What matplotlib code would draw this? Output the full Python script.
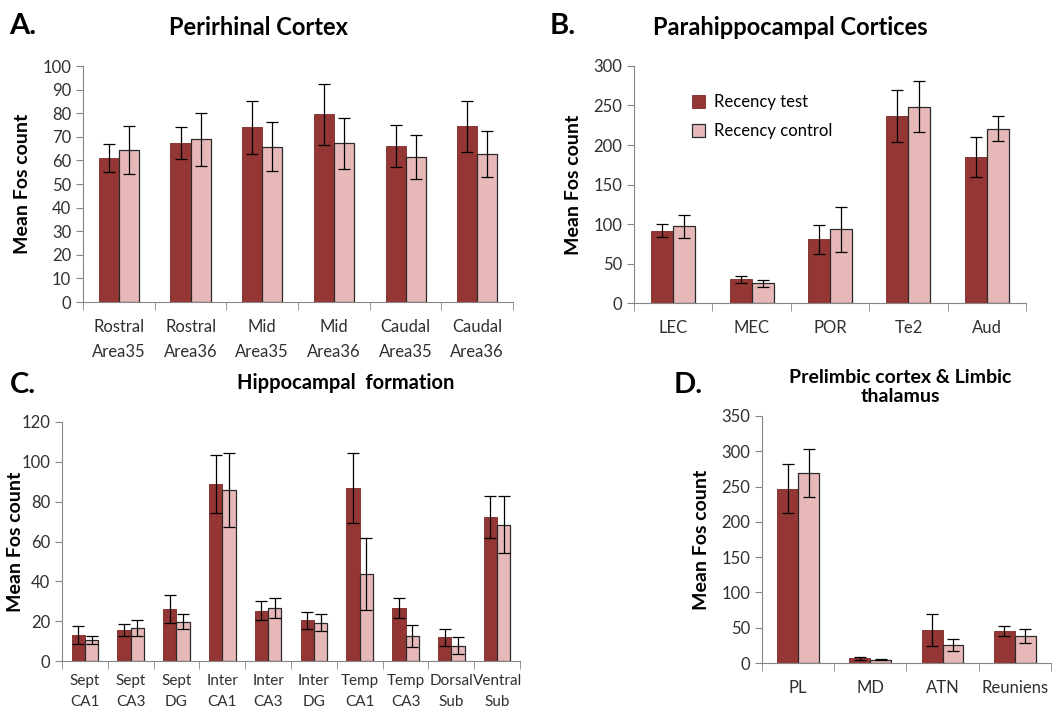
import numpy as np
import matplotlib.pyplot as plt

plt.rcParams['font.family'] = ['Lato', 'DejaVu Sans']

dark = '#943634'
pink = '#e6b9b8'
axis_grey = '#868686'

# A. Perirhinal cortex
a_labels = ['Rostral\nArea35', 'Rostral\nArea36', 'Mid\nArea35', 'Mid\nArea36', 'Caudal\nArea35', 'Caudal\nArea36']
a_test = [61, 67.5, 74, 79.5, 66.3, 74.4]
a_test_err = [6.1, 6.8, 11.4, 12.9, 8.9, 10.8]
a_ctrl = [64.6, 68.9, 65.8, 67.3, 61.5, 62.7]
a_ctrl_err = [10.2, 11.1, 10.3, 10.8, 9.3, 9.9]

# B. Parahippocampal cortices
b_labels = ['LEC', 'MEC', 'POR', 'Te2', 'Aud']
b_test = [91.4, 29.9, 80.5, 236.8, 184.6]
b_test_err = [8.2, 4.0, 18.1, 32.8, 25.1]
b_ctrl = [96.9, 24.9, 93.6, 248.6, 220.8]
b_ctrl_err = [14.5, 4.8, 28.5, 32.5, 15.4]

# C. Hippocampal formation
c_labels = ['Sept\nCA1', 'Sept\nCA3', 'Sept\nDG', 'Inter\nCA1', 'Inter\nCA3', 'Inter\nDG',
            'Temp\nCA1', 'Temp\nCA3', 'Dorsal\nSub', 'Ventral\nSub']
c_test = [12.9, 15.7, 26.1, 88.9, 25.3, 20.4, 87.0, 26.6, 11.9, 72.5]
c_test_err = [4.5, 2.9, 6.9, 14.5, 4.9, 4.3, 17.6, 5.0, 4.3, 10.5]
c_ctrl = [10.5, 16.4, 19.7, 85.7, 26.4, 19.2, 43.8, 12.7, 7.7, 68.5]
c_ctrl_err = [2.2, 4.0, 3.8, 18.6, 5.0, 4.3, 18.0, 5.5, 4.2, 14.1]

# D. Prelimbic cortex & limbic thalamus
d_labels = ['PL', 'MD', 'ATN', 'Reuniens']
d_test = [247, 6.6, 46.8, 45.3]
d_test_err = [35, 2.2, 22, 7.5]
d_ctrl = [268.8, 4.7, 26, 38.7]
d_ctrl_err = [34, 1.0, 8.3, 10.2]

fig = plt.figure(figsize=(10.54, 7.15), dpi=100)


def panel(rect, labels, test, test_err, ctrl, ctrl_err, ymax, step, width,
          tick_fs=12, spacing=1.75, pad=12, legend=False):
    ax = fig.add_axes(rect)
    x = np.arange(len(labels))
    ax.bar(x - width / 2, test, width, color=dark, edgecolor='#7a2826', linewidth=0.6,
           yerr=test_err, capsize=4, error_kw=dict(ecolor='black', elinewidth=0.9, capthick=0.9),
           label='Recency test')
    ax.bar(x + width / 2, ctrl, width, color=pink, edgecolor='#2a2a2a', linewidth=0.9,
           yerr=ctrl_err, capsize=4, error_kw=dict(ecolor='black', elinewidth=0.9, capthick=0.9),
           label='Recency control')
    ax.set_xlim(-0.5, len(labels) - 0.5)
    ax.set_ylim(0, ymax)
    ax.set_yticks(np.arange(0, ymax + step / 2, step))
    ax.set_xticks(x)
    ax.set_xticklabels(labels, fontsize=tick_fs, color='#303030', linespacing=spacing)
    ax.set_xticks(np.arange(-0.5, len(labels)), minor=True)
    ax.tick_params(axis='x', which='major', length=0, pad=pad)
    ax.tick_params(axis='x', which='minor', length=6, color=axis_grey, direction='out')
    ax.tick_params(axis='y', length=5, color=axis_grey, labelsize=12, labelcolor='#303030')
    for s in ['top', 'right']:
        ax.spines[s].set_visible(False)
    for s in ['left', 'bottom']:
        ax.spines[s].set_color(axis_grey)
    ax.set_ylabel('Mean Fos count', fontsize=14, fontweight='bold')
    if legend:
        ax.legend(loc='upper left', bbox_to_anchor=(0.11, 0.945), frameon=False, fontsize=12,
                  handlelength=0.8, handleheight=0.8, handletextpad=0.5, labelspacing=0.8)
    return ax


axA = panel([0.0788, 0.5776, 0.408, 0.330], a_labels, a_test, a_test_err, a_ctrl, a_ctrl_err, 100, 10, 0.28)
axB = panel([0.6015, 0.5762, 0.372, 0.3315], b_labels, b_test, b_test_err, b_ctrl, b_ctrl_err, 300, 50, 0.28, legend=True)
axC = panel([0.0588, 0.0755, 0.4346, 0.3343], c_labels, c_test, c_test_err, c_ctrl, c_ctrl_err, 120, 20, 0.29,
            tick_fs=11, spacing=1.7, pad=9)
axD = panel([0.723, 0.0727, 0.274, 0.3455], d_labels, d_test, d_test_err, d_ctrl, d_ctrl_err, 350, 50, 0.29)

axA.yaxis.set_label_coords(-0.122, 0.5)
axB.yaxis.set_label_coords(-0.133, 0.5)
axC.yaxis.set_label_coords(-0.082, 0.5)
axD.yaxis.set_label_coords(-0.18, 0.5)

fig.text(0.009, 0.964, 'A.', fontsize=21, fontweight='bold', va='center')
fig.text(0.521, 0.964, 'B.', fontsize=21, fontweight='bold', va='center')
fig.text(0.009, 0.4615, 'C.', fontsize=21, fontweight='bold', va='center')
fig.text(0.639, 0.4615, 'D.', fontsize=21, fontweight='bold', va='center')

fig.text(0.2457, 0.962, 'Perirhinal Cortex', fontsize=17, fontweight='bold', ha='center', va='center')
fig.text(0.7495, 0.962, 'Parahippocampal Cortices', fontsize=17, fontweight='bold', ha='center', va='center')
fig.text(0.328, 0.464, 'Hippocampal  formation', fontsize=14.5, fontweight='bold', ha='center', va='center')
fig.text(0.854, 0.459, 'Prelimbic cortex & Limbic\nthalamus', fontsize=14, fontweight='bold',
         ha='center', va='center', linespacing=1.15)

fig.savefig('out.png', dpi=100)
